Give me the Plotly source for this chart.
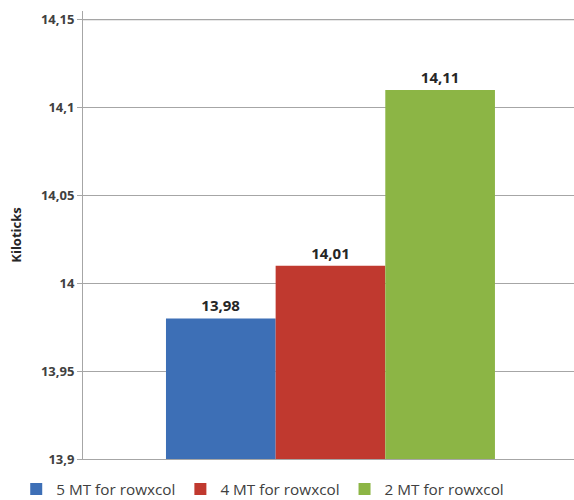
import plotly.graph_objects as go

series = ["5 MT for rowxcol", "4 MT for rowxcol", "2 MT for rowxcol"]
values = [13.98, 14.01, 14.11]
colors = ["#3d6fb6", "#c0392f", "#8cb545"]
tick_vals = [13.9, 13.95, 14.0, 14.05, 14.1, 14.15]

fig = go.Figure()
for name, v, c in zip(series, values, colors):
    fig.add_trace(go.Bar(
        x=[""], y=[v], name=name,
        marker=dict(color=c, line=dict(width=0)),
        text=[v], texttemplate="<b>%{y:.2f}</b>", textposition="outside",
        textfont=dict(family="Open Sans", size=15, color="#262626"),
        cliponaxis=False,
    ))

# top gridline at the upper tick
fig.add_shape(type="line", xref="paper", x0=0, x1=1, yref="y",
              y0=tick_vals[-1], y1=tick_vals[-1],
              line=dict(color="#a6a6a6", width=1), layer="above")

fig.update_layout(
    width=574, height=500,
    margin=dict(l=83, r=0, t=11, b=41, autoexpand=False),
    paper_bgcolor="white", plot_bgcolor="white",
    separators=", ",
    barmode="group", bargap=0.33, bargroupgap=0,
    font=dict(family="Open Sans", color="#404040"),
    showlegend=True,
    legend=dict(orientation="h", x=-0.136, xanchor="left", y=-0.03, yanchor="top",
                font=dict(size=15.3, color="#404040"), itemwidth=30,
                traceorder="normal"),
    xaxis=dict(showticklabels=False, showline=True, linecolor="#a6a6a6", linewidth=1,
               showgrid=False, zeroline=False, fixedrange=True, range=[-0.504, 0.496]),
    yaxis=dict(range=[13.9, 14.155], tickvals=tick_vals, showgrid=True,
               gridcolor="#a6a6a6", gridwidth=1, showline=True, linecolor="#a6a6a6",
               linewidth=1, ticks="outside", ticklen=5, tickcolor="#a6a6a6",
               zeroline=False,
               tickfont=dict(size=13, color="#404040", family="Open Sans", weight="bold"),
               title=dict(text="<b>Kiloticks</b>", font=dict(size=13, color="#262626"),
                          standoff=16)),
)
fig.write_html("out.html")
